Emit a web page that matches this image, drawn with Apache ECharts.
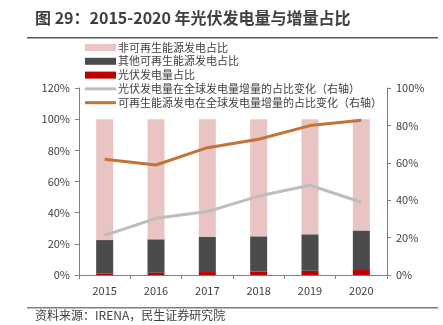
<!DOCTYPE html>
<html><head><meta charset="utf-8">
<script src="https://cdn.jsdelivr.net/npm/echarts@6/dist/echarts.min.js"></script>
<style>html,body{margin:0;padding:0;background:#fff}#c{width:443px;height:325px}</style>
</head><body><div id="c"></div>
<script>
const years = ['2015','2016','2017','2018','2019','2020'];
const pvShare = [1.1, 1.4, 1.9, 2.3, 2.7, 3.2];
const otherRenewShare = [21.3, 21.5, 22.5, 22.5, 23.4, 25.4];
const nonRenewShare = [77.6, 77.1, 75.6, 75.2, 73.9, 71.4];
const pvIncrementShare = [21.2, 30.3, 33.9, 42.2, 48.0, 38.9];
const renewIncrementShare = [61.9, 58.8, 68.1, 72.6, 79.9, 82.7];
const names = ['非可再生能源发电占比','其他可再生能源发电占比','光伏发电量占比','光伏发电量在全球发电量增量的占比变化（右轴）','可再生能源发电在全球发电量增量的占比变化（右轴）'];
const FONT = '"Noto Sans CJK SC", sans-serif';
const chart = echarts.init(document.getElementById('c'));
const axisColor = '#7f7f7f';
const lineIcon = 'path://M0,0 L31,0 L31,3 L0,3 Z';
chart.setOption({
  animation:false,
  textStyle:{fontFamily:FONT},
  grid:{left:79,right:56,top:88,bottom:50},
  legend:{
    orient:'vertical', left:80, top:37, itemWidth:31, itemHeight:7, itemGap:2.8,
    symbolKeepAspect:true,
    textStyle:{fontFamily:FONT,fontSize:11,color:'#404040',padding:[0,0,0,-3]},
    data:[
      {name:names[0],icon:'rect'},
      {name:names[1],icon:'rect'},
      {name:names[2],icon:'rect'},
      {name:names[3],icon:lineIcon},
      {name:names[4],icon:lineIcon}
    ]
  },
  xAxis:{type:'category',data:years,
    axisLine:{lineStyle:{color:axisColor}},
    axisTick:{show:true,alignWithLabel:false,length:4,lineStyle:{color:axisColor}},
    axisLabel:{color:'#404040',fontSize:11,margin:10,fontFamily:FONT}
  },
  yAxis:[
    {type:'value',min:0,max:120,interval:20,
     axisLine:{show:true,lineStyle:{color:axisColor}},
     axisTick:{show:true,length:4,lineStyle:{color:axisColor}},
     splitLine:{show:false},
     axisLabel:{formatter:'{value}%',color:'#404040',fontSize:11,margin:9,fontFamily:FONT}},
    {type:'value',min:0,max:100,interval:20,position:'right',
     axisLine:{show:true,lineStyle:{color:axisColor}},
     axisTick:{show:true,length:4,lineStyle:{color:axisColor}},
     splitLine:{show:false},
     axisLabel:{formatter:'{value}%',color:'#404040',fontSize:11,margin:9,fontFamily:FONT}}
  ],
  series:[
    {name:names[2],type:'bar',stack:'s',data:pvShare,barWidth:17,itemStyle:{color:'#C00000'}},
    {name:names[1],type:'bar',stack:'s',data:otherRenewShare,barWidth:17,itemStyle:{color:'#4B4B4D'}},
    {name:names[0],type:'bar',stack:'s',data:nonRenewShare,barWidth:17,itemStyle:{color:'#EAC3C3'}},
    {name:names[3],type:'line',yAxisIndex:1,data:pvIncrementShare,symbol:'none',lineStyle:{color:'#BDBDBD',width:3},itemStyle:{color:'#BDBDBD'}},
    {name:names[4],type:'line',yAxisIndex:1,data:renewIncrementShare,symbol:'none',lineStyle:{color:'#C27438',width:3},itemStyle:{color:'#C27438'}}
  ],
  graphic:[
    {type:'text',left:35,top:10,style:{text:'图 29：2015-2020 年光伏发电量与增量占比',font:'bold 16px '+FONT,fill:'#404040'}},
    {type:'rect',shape:{x:27,y:37,width:411,height:1.5},style:{fill:'#595959'}},
    {type:'rect',shape:{x:27,y:307,width:411,height:1.5},style:{fill:'#7f7f7f'}},
    {type:'text',left:35,top:309,style:{text:'资料来源：IRENA，民生证券研究院',font:'12px '+FONT,fill:'#404040'}}
  ]
});
</script></body></html>
